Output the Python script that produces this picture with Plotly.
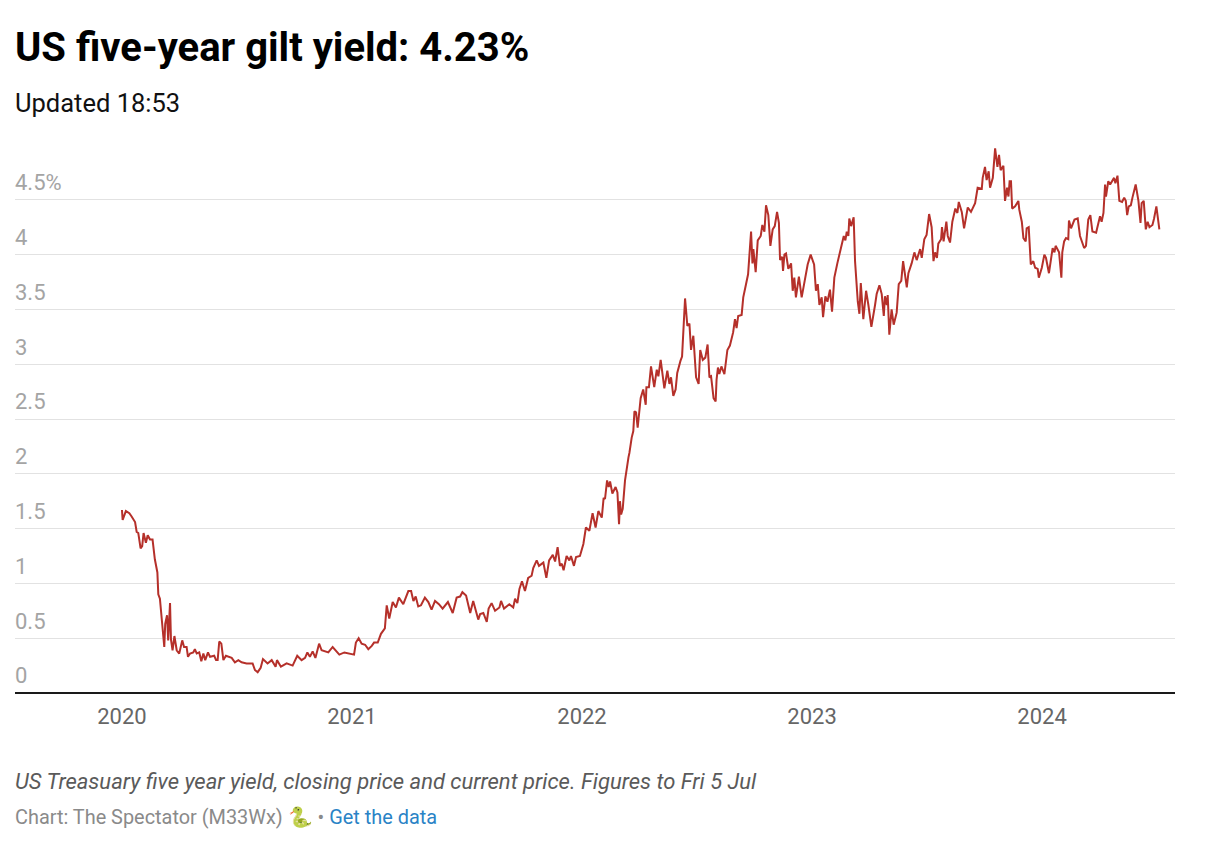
import plotly.graph_objects as go

# Decimal year of each reading (offset from 2020)
year_offsets = [
 0.000,0.003,0.017,0.032,0.042,0.057,0.064,0.071,0.081,0.088,0.094,0.104,0.112,0.122,0.133,0.143,0.154,0.158,0.165,0.175,
 0.184,0.188,0.196,0.201,0.209,0.213,0.220,0.228,0.238,0.249,0.262,0.270,0.281,0.287,0.296,0.310,0.317,0.325,0.336,0.345,
 0.354,0.362,0.374,0.383,0.401,0.409,0.416,0.423,0.432,0.441,0.452,0.477,0.491,0.506,0.520,0.542,0.568,0.578,0.590,0.603,
 0.613,0.633,0.651,0.668,0.674,0.691,0.716,0.742,0.762,0.781,0.796,0.806,0.817,0.829,0.841,0.857,0.868,0.897,0.916,0.945,
 0.967,1.009,1.017,1.029,1.042,1.057,1.071,1.086,1.096,1.112,1.126,1.143,1.151,1.162,1.177,1.191,1.204,1.223,1.245,1.257,
 1.267,1.277,1.288,1.300,1.317,1.332,1.346,1.361,1.378,1.394,1.417,1.438,1.455,1.470,1.480,1.496,1.514,1.527,1.549,1.557,
 1.571,1.586,1.594,1.607,1.622,1.641,1.648,1.661,1.684,1.701,1.709,1.719,1.728,1.739,1.752,1.766,1.781,1.788,1.803,1.813,
 1.832,1.845,1.857,1.873,1.883,1.894,1.904,1.912,1.920,1.933,1.945,1.952,1.965,1.974,1.991,2.006,2.017,2.032,2.046,2.059,
 2.071,2.086,2.094,2.100,2.109,2.116,2.122,2.132,2.146,2.154,2.161,2.165,2.170,2.177,2.187,2.202,2.206,2.216,2.223,2.228,
 2.235,2.242,2.249,2.255,2.266,2.277,2.280,2.291,2.300,2.314,2.325,2.332,2.342,2.358,2.371,2.380,2.387,2.397,2.407,2.414,
 2.428,2.435,2.448,2.458,2.467,2.474,2.484,2.496,2.507,2.514,2.525,2.536,2.546,2.554,2.561,2.572,2.581,2.585,2.591,2.597,
 2.606,2.619,2.632,2.643,2.657,2.665,2.672,2.679,2.694,2.701,2.713,2.722,2.735,2.741,2.745,2.755,2.764,2.777,2.784,2.793,
 2.800,2.810,2.819,2.829,2.838,2.848,2.856,2.861,2.870,2.874,2.880,2.887,2.897,2.909,2.916,2.923,2.930,2.943,2.955,2.970,
 2.981,2.994,3.009,3.017,3.025,3.032,3.042,3.048,3.058,3.067,3.078,3.087,3.097,3.110,3.122,3.138,3.145,3.151,3.158,3.162,
 3.170,3.181,3.187,3.194,3.199,3.206,3.212,3.223,3.235,3.245,3.258,3.274,3.281,3.293,3.303,3.312,3.317,3.325,3.329,3.336,
 3.346,3.355,3.368,3.377,3.388,3.396,3.412,3.419,3.433,3.445,3.455,3.470,3.477,3.488,3.498,3.509,3.520,3.528,3.535,3.543,
 3.549,3.561,3.565,3.572,3.584,3.590,3.600,3.610,3.623,3.632,3.638,3.651,3.661,3.677,3.691,3.709,3.720,3.738,3.742,3.752,
 3.759,3.768,3.774,3.786,3.796,3.806,3.813,3.820,3.832,3.839,3.848,3.854,3.859,3.865,3.870,3.883,3.897,3.901,3.912,3.919,
 3.929,3.933,3.942,3.951,3.962,3.970,3.981,3.986,3.999,4.010,4.017,4.030,4.046,4.054,4.059,4.074,4.084,4.088,4.096,4.104,
 4.114,4.117,4.126,4.141,4.155,4.165,4.183,4.191,4.201,4.210,4.219,4.235,4.252,4.259,4.267,4.274,4.278,4.288,4.296,4.313,
 4.319,4.328,4.336,4.348,4.357,4.364,4.370,4.377,4.386,4.393,4.407,4.419,4.428,4.433,4.442,4.451,4.459,4.467,4.480,4.487,
 4.497,4.510,
]
yields = [
 1.67,1.58,1.66,1.64,1.61,1.56,1.47,1.46,1.32,1.34,1.46,1.37,1.44,1.40,1.40,1.22,1.10,0.90,0.86,0.60,
 0.42,0.63,0.71,0.48,0.82,0.49,0.39,0.52,0.39,0.36,0.48,0.42,0.42,0.33,0.36,0.37,0.40,0.36,0.37,0.29,
 0.36,0.30,0.37,0.33,0.34,0.30,0.30,0.47,0.45,0.30,0.34,0.32,0.28,0.30,0.28,0.27,0.27,0.21,0.19,0.23,
 0.31,0.27,0.30,0.24,0.30,0.24,0.27,0.25,0.34,0.30,0.32,0.37,0.33,0.38,0.32,0.45,0.39,0.37,0.42,0.35,
 0.37,0.35,0.46,0.50,0.45,0.44,0.40,0.43,0.46,0.46,0.54,0.59,0.80,0.68,0.83,0.78,0.87,0.81,0.93,0.93,
 0.84,0.88,0.79,0.80,0.87,0.83,0.76,0.84,0.81,0.77,0.83,0.73,0.87,0.88,0.92,0.89,0.73,0.84,0.67,0.72,
 0.73,0.65,0.77,0.82,0.75,0.78,0.84,0.77,0.81,0.78,0.86,0.82,0.95,1.02,0.93,1.05,1.07,1.14,1.21,1.16,
 1.19,1.05,1.21,1.26,1.20,1.33,1.16,1.18,1.12,1.25,1.21,1.25,1.16,1.24,1.25,1.36,1.51,1.48,1.64,1.51,
 1.66,1.60,1.78,1.77,1.94,1.88,1.93,1.82,1.88,1.83,1.54,1.75,1.63,1.68,1.94,2.15,2.19,2.33,2.39,2.57,
 2.56,2.42,2.55,2.69,2.77,2.63,2.79,2.79,2.98,2.79,2.95,2.89,3.04,2.78,2.94,2.82,2.88,2.71,2.77,2.92,
 3.03,3.07,3.60,3.35,3.37,3.13,3.26,2.88,2.82,3.13,3.04,3.06,3.18,2.88,2.89,2.69,2.66,2.86,2.97,2.91,
 2.98,2.91,3.13,3.17,3.29,3.41,3.33,3.44,3.45,3.61,3.73,3.82,4.21,3.92,4.05,3.84,4.13,4.17,4.27,4.21,
 4.45,4.36,4.08,4.23,4.26,4.39,4.29,3.95,3.98,3.85,4.00,4.01,3.87,3.92,3.67,3.79,3.61,3.80,3.61,3.79,
 3.91,4.00,3.91,3.67,3.73,3.54,3.61,3.43,3.62,3.57,3.68,3.48,3.79,3.92,4.03,4.17,4.13,4.21,4.17,4.33,
 4.26,4.34,3.94,3.70,3.57,3.46,3.74,3.41,3.67,3.54,3.34,3.54,3.64,3.72,3.64,3.44,3.62,3.54,3.63,3.27,
 3.50,3.36,3.47,3.73,3.76,3.94,3.70,3.83,3.92,4.02,3.95,4.05,3.97,4.14,4.18,4.37,4.25,3.94,4.02,3.97,
 4.10,4.14,4.25,4.12,4.30,4.17,4.11,4.30,4.42,4.38,4.48,4.39,4.24,4.43,4.39,4.47,4.61,4.60,4.70,4.80,
 4.68,4.76,4.61,4.70,4.97,4.80,4.91,4.77,4.81,4.49,4.61,4.53,4.67,4.67,4.42,4.44,4.49,4.41,4.30,4.15,
 4.12,4.24,4.25,3.91,3.94,3.88,3.87,3.79,3.88,4.00,3.97,3.83,4.06,4.02,4.08,4.02,3.79,4.02,4.12,4.15,
 4.14,4.31,4.24,4.32,4.33,4.17,4.06,4.08,4.32,4.36,4.21,4.20,4.35,4.30,4.38,4.64,4.53,4.67,4.64,4.70,
 4.65,4.72,4.49,4.48,4.52,4.49,4.36,4.44,4.45,4.52,4.64,4.49,4.29,4.47,4.49,4.23,4.30,4.25,4.27,4.33,
 4.44,4.23,
]
years = [2020 + v for v in year_offsets]

y_ticks = [0, 0.5, 1, 1.5, 2, 2.5, 3, 3.5, 4, 4.5]
y_labels = ["0", "0.5", "1", "1.5", "2", "2.5", "3", "3.5", "4", "4.5%"]
x_ticks = [2020, 2021, 2022, 2023, 2024]
x_labels = ["2020", "2021", "2022", "2023", "2024"]

title = "<b>US five-year gilt yield: 4.23%</b>"
subtitle = "Updated 18:53"
note = "<i>US Treasuary five year yield, closing price and current price. Figures to Fri 5 Jul</i>"
credit = 'Chart: The Spectator (M33Wx) 🐍 • <span style="color:#2a83c6">Get the data</span>'

FONT = "Roboto"
fig = go.Figure(go.Scatter(x=years, y=yields, mode="lines", hoverinfo="skip",
                           line=dict(color="#b5302a", width=2, shape="linear")))

def text(s, y, size, color):
    fig.add_annotation(text=s, xref="paper", yref="paper", x=0, y=y, xanchor="left", yanchor="middle",
                       xshift=-1, showarrow=False, align="left", borderpad=0,
                       font=dict(family=FONT, size=size, color=color))

text(title, 1.178, 40, "#000000")
text(subtitle, 1.077, 25.5, "#111111")
text(note, -0.1607, 22, "#5a5a5a")
text(credit, -0.2267, 19.9, "#8a8a8a")

fig.update_layout(
    width=1192, height=840, margin=dict(l=7, r=25, t=136.5, b=154.5),
    paper_bgcolor="white", plot_bgcolor="white", showlegend=False,
    font=dict(family=FONT),
    xaxis=dict(range=[2019.535, 2024.578], tickmode="array", tickvals=x_ticks, ticktext=x_labels,
               showgrid=False, zeroline=False, showline=False, ticks="",
               ticklabelstandoff=8, tickfont=dict(family=FONT, size=22, color="#666666")),
    yaxis=dict(range=[0, 5], tickmode="array", tickvals=y_ticks, ticktext=y_labels,
               ticklabelposition="inside top", ticklabelstandoff=-3, ticklabelshift=-2, showgrid=True, gridcolor="#e2e2e2", gridwidth=1,
               zeroline=True, zerolinecolor="#1a1a1a", zerolinewidth=2, showline=False, ticks="",
               tickfont=dict(family=FONT, size=22, color="#a4a4a4")),
)
fig.write_html("out.html")
